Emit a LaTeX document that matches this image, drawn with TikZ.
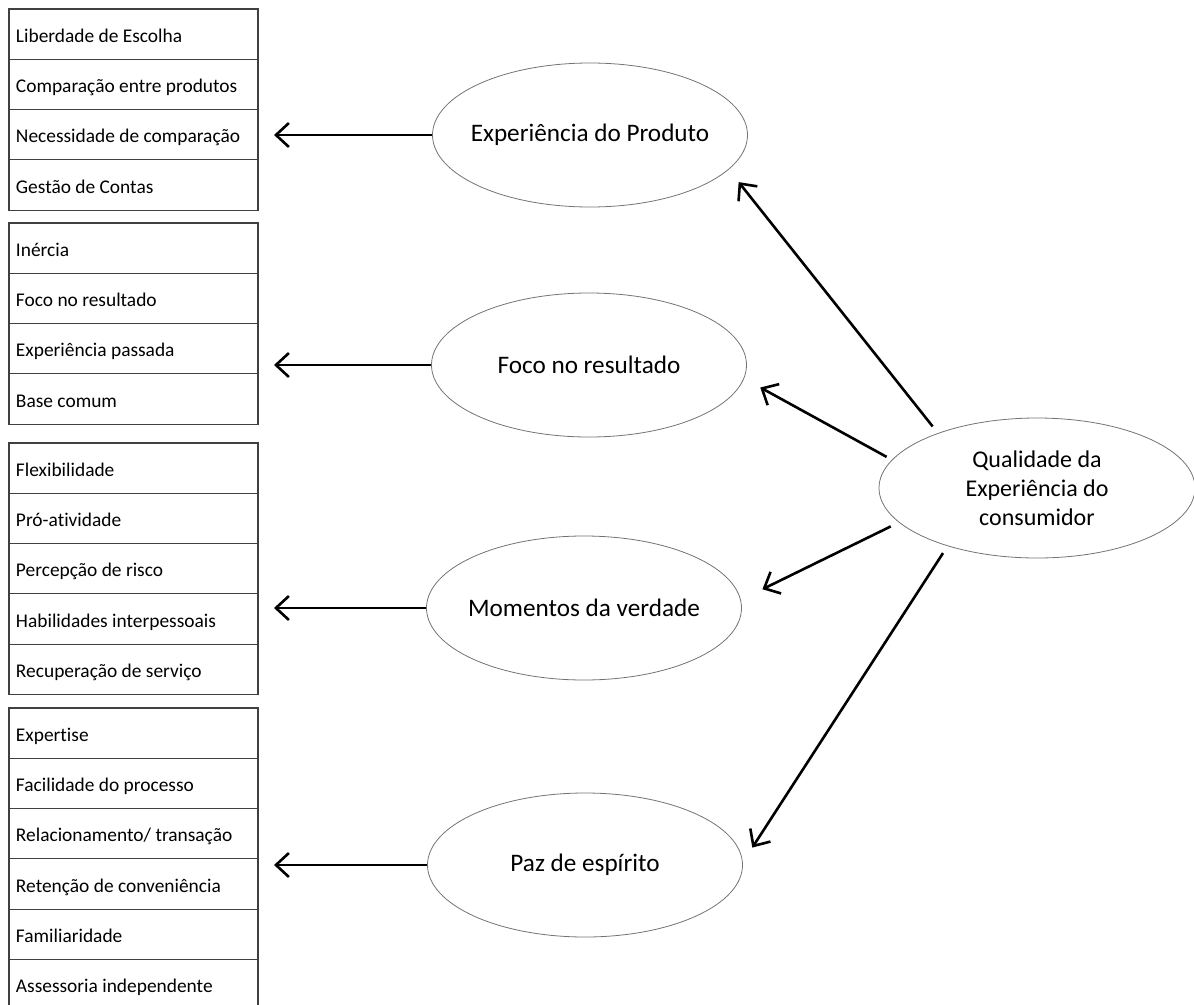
\documentclass[tikz,border=0pt]{standalone}
\usepackage{fontspec}
\setmainfont[Ligatures=NoCommon]{Carlito}
\usetikzlibrary{positioning,shapes.geometric,arrows.meta}

\begin{document}
\begin{tikzpicture}[x=1pt,y=-1pt,>={Straight Barb[length=13pt,width=24pt]},
  item/.style={draw=black!75,line width=1.1pt,outer sep=0pt,anchor=north west,
    text width=235pt,align=left,inner xsep=7pt,inner ysep=0pt,minimum height=50.3pt,
    text height=19pt,text depth=3pt,font=\fontsize{19.4}{22}\selectfont,
    execute at begin node={\spaceskip=0pt\xspaceskip=0pt\relax}},
  bubble/.style={ellipse,draw=black!55,line width=0.8pt,inner xsep=-20pt,inner ysep=0pt,
    minimum width=315pt,minimum height=144pt,font=\fontsize{25.2}{29}\selectfont},
  arrow/.style={->,line width=2.6pt}]
\useasboundingbox (0,0) rectangle (1194,1004);

% produto
\node[item] (prod1) at (9,9) {Liberdade de Escolha};
\node[item,below=0pt of prod1] (prod2) {Comparação entre produtos};
\node[item,below=0pt of prod2] (prod3) {Necessidade de comparação};
\node[item,below=0pt of prod3] (prod4) {Gestão de Contas};

% foco
\node[item] (foco1) at (9,223) {Inércia};
\node[item,below=0pt of foco1] (foco2) {Foco no resultado};
\node[item,below=0pt of foco2] (foco3) {Experiência passada};
\node[item,below=0pt of foco3] (foco4) {Base comum};

% momentos
\node[item] (mom1) at (9,443) {Flexibilidade};
\node[item,below=0pt of mom1] (mom2) {Pró-atividade};
\node[item,below=0pt of mom2] (mom3) {Percepção de risco};
\node[item,below=0pt of mom3] (mom4) {Habilidades interpessoais};
\node[item,below=0pt of mom4] (mom5) {Recuperação de serviço};

% paz
\node[item] (paz1) at (9,708) {Expertise};
\node[item,below=0pt of paz1] (paz2) {Facilidade do processo};
\node[item,below=0pt of paz2] (paz3) {Relacionamento/ transação};
\node[item,below=0pt of paz3] (paz4) {Retenção de conveniência};
\node[item,below=0pt of paz4] (paz5) {Familiaridade};
\node[item,below=0pt of paz5] (paz6) {Assessoria independente};

\node[bubble] (prod) at (590,135) {Experiência do Produto};
\node[bubble] (foco) at (589,365) {Foco no resultado};
\node[bubble] (mom) at (584,608) {Momentos da verdade};
\node[bubble] (paz) at (585,865) {Paz de espírito};
\node[bubble,minimum width=316pt,minimum height=140pt,align=center,
  font=\fontsize{24}{29}\selectfont] (qual) at (1037,488)
  {Qualidade da\\Experiência do\\consumidor};

\coordinate (tip) at (274,0);
\draw[arrow] (prod.west) -- (prod.west -| tip);
\draw[arrow] (foco.west) -- (foco.west -| tip);
\draw[arrow] (mom.west) -- (mom.west -| tip);
\draw[arrow] (paz.west) -- (paz.west -| tip);

\draw[arrow,shorten <=8.5pt,shorten >=16pt] (qual.151) -- (prod.-14);
\draw[arrow,shorten <=6pt,shorten >=18.5pt] (qual.169) -- (foco.-5);
\draw[arrow,shorten <=9pt,shorten >=24pt] (qual.194) -- (mom.3);
\draw[arrow,shorten <=8.3pt,shorten >=17.5pt] (qual.213) -- (paz.1);
\end{tikzpicture}
\end{document}
